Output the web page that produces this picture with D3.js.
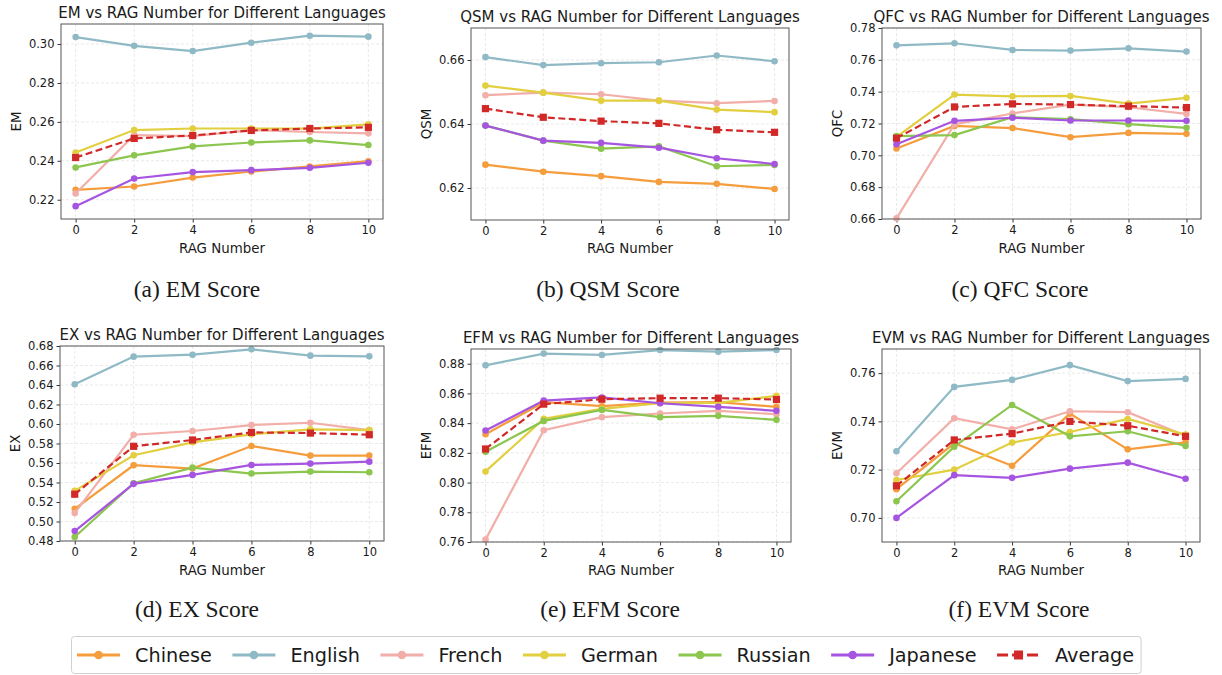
<!DOCTYPE html>
<html>
<head>
<meta charset="utf-8">
<script src="https://cdn.jsdelivr.net/npm/d3@7"></script>
<style>
  body { margin: 0; background: #fff; }
  svg text { font-family: "DejaVu Sans", sans-serif; fill: #1a1a1a; }
  .caption { font-family: "Liberation Serif", "Times New Roman", serif !important; }
</style>
</head>
<body>
<div id="vis"></div>
<script>
// data
const ragNumbers = [0, 2, 4, 6, 8, 10];
const languages = ['Chinese', 'English', 'French', 'German', 'Russian', 'Japanese'];

const emScores = {
  Chinese:  [0.2251, 0.2268, 0.2314, 0.2345, 0.2371, 0.2398],
  English:  [0.3036, 0.2991, 0.2964, 0.3007, 0.3043, 0.3038],
  French:   [0.2232, 0.2532, 0.2527, 0.2558, 0.2548, 0.2541],
  German:   [0.2443, 0.2558, 0.2566, 0.2566, 0.2565, 0.2587],
  Russian:  [0.2366, 0.2428, 0.2474, 0.2494, 0.2505, 0.2481],
  Japanese: [0.2167, 0.2309, 0.2342, 0.2352, 0.2364, 0.2390],
  Average:  [0.2417, 0.2515, 0.2530, 0.2556, 0.2566, 0.2572]
};
const qsmScores = {
  Chinese:  [0.6273, 0.6251, 0.6237, 0.6219, 0.6213, 0.6197],
  English:  [0.6609, 0.6584, 0.6590, 0.6593, 0.6614, 0.6596],
  French:   [0.6490, 0.6498, 0.6493, 0.6473, 0.6465, 0.6472],
  German:   [0.6520, 0.6498, 0.6473, 0.6473, 0.6445, 0.6437],
  Russian:  [0.6395, 0.6348, 0.6323, 0.6330, 0.6268, 0.6272],
  Japanese: [0.6395, 0.6348, 0.6341, 0.6326, 0.6293, 0.6275],
  Average:  [0.6448, 0.6421, 0.6409, 0.6402, 0.6382, 0.6374]
};
const qfcScores = {
  Chinese:  [0.7043, 0.7185, 0.7171, 0.7114, 0.7141, 0.7135],
  English:  [0.7691, 0.7704, 0.7662, 0.7658, 0.7672, 0.7652],
  French:   [0.6604, 0.7195, 0.7263, 0.7318, 0.7302, 0.7260],
  German:   [0.7116, 0.7382, 0.7371, 0.7373, 0.7325, 0.7361],
  Russian:  [0.7121, 0.7127, 0.7240, 0.7227, 0.7196, 0.7173],
  Japanese: [0.7070, 0.7217, 0.7236, 0.7219, 0.7219, 0.7217],
  Average:  [0.7108, 0.7304, 0.7323, 0.7319, 0.7309, 0.7300]
};
const exScores = {
  Chinese:  [0.5130, 0.5577, 0.5543, 0.5774, 0.5676, 0.5676],
  English:  [0.6408, 0.6691, 0.6711, 0.6766, 0.6701, 0.6694],
  French:   [0.5086, 0.5890, 0.5928, 0.5989, 0.6013, 0.5938],
  German:   [0.5314, 0.5679, 0.5812, 0.5894, 0.5945, 0.5938],
  Russian:  [0.4841, 0.5393, 0.5553, 0.5492, 0.5512, 0.5505],
  Japanese: [0.4902, 0.5386, 0.5478, 0.5580, 0.5594, 0.5614],
  Average:  [0.5280, 0.5771, 0.5836, 0.5914, 0.5907, 0.5890]
};
const efmScores = {
  Chinese:  [0.8325, 0.8541, 0.8514, 0.8539, 0.8541, 0.8510],
  English:  [0.8789, 0.8868, 0.8859, 0.8892, 0.8881, 0.8892],
  French:   [0.7616, 0.8352, 0.8440, 0.8465, 0.8483, 0.8460],
  German:   [0.8075, 0.8429, 0.8496, 0.8534, 0.8537, 0.8584],
  Russian:  [0.8208, 0.8415, 0.8489, 0.8440, 0.8449, 0.8422],
  Japanese: [0.8350, 0.8552, 0.8573, 0.8534, 0.8510, 0.8483],
  Average:  [0.8226, 0.8528, 0.8561, 0.8568, 0.8568, 0.8559]
};
const evmScores = {
  Chinese:  [0.7119, 0.7309, 0.7216, 0.7432, 0.7284, 0.7313],
  English:  [0.7276, 0.7543, 0.7572, 0.7633, 0.7567, 0.7576],
  French:   [0.7185, 0.7413, 0.7367, 0.7442, 0.7438, 0.7340],
  German:   [0.7157, 0.7200, 0.7312, 0.7356, 0.7410, 0.7345],
  Russian:  [0.7069, 0.7295, 0.7468, 0.7338, 0.7359, 0.7298],
  Japanese: [0.7000, 0.7177, 0.7166, 0.7204, 0.7229, 0.7162],
  Average:  [0.7133, 0.7323, 0.7349, 0.7400, 0.7382, 0.7338]
};

const yTicksEM  = [0.22, 0.24, 0.26, 0.28, 0.30];
const yTicksQSM = [0.62, 0.64, 0.66];
const yTicksQFC = [0.66, 0.68, 0.70, 0.72, 0.74, 0.76, 0.78];
const yTicksEX  = [0.48, 0.50, 0.52, 0.54, 0.56, 0.58, 0.60, 0.62, 0.64, 0.66, 0.68];
const yTicksEFM = [0.76, 0.78, 0.80, 0.82, 0.84, 0.86, 0.88];
const yTicksEVM = [0.70, 0.72, 0.74, 0.76];

// styles
const colors = {
  Chinese: '#f59d3d', English: '#8fbac5', French: '#f2aea8',
  German: '#e2cf40', Russian: '#8cc64f', Japanese: '#a655e0', Average: '#d12828'
};

// panels: metric, data, y range, placement
const panels = [
  { metric: 'EM',  data: emScores,  ticks: yTicksEM,  domain: [0.2101, 0.3103], left: 61,  right: 383,  top: 24,  bottom: 219, caption: '(a) EM Score',  capX: 197 },
  { metric: 'QSM', data: qsmScores, ticks: yTicksQSM, domain: [0.61, 0.67],     left: 471, right: 789,  top: 28,  bottom: 220, caption: '(b) QSM Score', capX: 608 },
  { metric: 'QFC', data: qfcScores, ticks: yTicksQFC, domain: [0.66, 0.78],     left: 882, right: 1201, top: 28,  bottom: 219, caption: '(c) QFC Score', capX: 1020 },
  { metric: 'EX',  data: exScores,  ticks: yTicksEX,  domain: [0.48, 0.68],     left: 60,  right: 384,  top: 346, bottom: 541, caption: '(d) EX Score',  capX: 197 },
  { metric: 'EFM', data: efmScores, ticks: yTicksEFM, domain: [0.76, 0.8899],   left: 471, right: 791,  top: 349, bottom: 542, caption: '(e) EFM Score', capX: 610 },
  { metric: 'EVM', data: evmScores, ticks: yTicksEVM, domain: [0.69, 0.77],     left: 882, right: 1200, top: 349, bottom: 542, caption: '(f) EVM Score', capX: 1019 }
];

const W = 1222, H = 675;
const svg = d3.select('#vis').append('svg')
  .attr('width', W).attr('height', H);

panels.forEach((p, i) => {
  const row = i < 3 ? 0 : 1;
  const x = d3.scaleLinear().domain([-0.5, 10.5]).range([p.left, p.right]);
  const y = d3.scaleLinear().domain(p.domain).range([p.bottom, p.top]);
  const g = svg.append('g');

  // grid
  g.append('g').selectAll('line.gx').data(ragNumbers).join('line')
    .attr('x1', d => x(d)).attr('x2', d => x(d))
    .attr('y1', p.top).attr('y2', p.bottom)
    .attr('stroke', '#b0b0b0').attr('stroke-opacity', 0.35)
    .attr('stroke-width', 0.8).attr('stroke-dasharray', '3,2');
  g.append('g').selectAll('line.gy').data(p.ticks).join('line')
    .attr('x1', p.left).attr('x2', p.right)
    .attr('y1', d => y(d)).attr('y2', d => y(d))
    .attr('stroke', '#b0b0b0').attr('stroke-opacity', 0.35)
    .attr('stroke-width', 0.8).attr('stroke-dasharray', '3,2');

  // axes
  const xAxis = d3.axisBottom(x).tickValues(ragNumbers).tickSize(3.5).tickPadding(3);
  const yAxis = d3.axisLeft(y).tickValues(p.ticks).tickFormat(d3.format('.2f')).tickSize(3.5).tickPadding(3);
  const gx = g.append('g').attr('transform', `translate(0,${p.bottom})`).call(xAxis);
  const gy = g.append('g').attr('transform', `translate(${p.left},0)`).call(yAxis);
  [gx, gy].forEach(a => {
    a.select('.domain').remove();
    a.selectAll('.tick line').attr('stroke', '#333');
    a.selectAll('.tick text').style('font-size', '11.5px').attr('fill', '#1a1a1a');
  });

  // series
  const clip = `clip${i}`;
  svg.append('clipPath').attr('id', clip).append('rect')
    .attr('x', p.left).attr('y', p.top - 4)
    .attr('width', p.right - p.left).attr('height', p.bottom - p.top + 8);
  const series = g.append('g').attr('clip-path', `url(#${clip})`);
  const line = d3.line().x((d, j) => x(ragNumbers[j])).y(d => y(d));

  languages.forEach(lang => {
    series.append('path').datum(p.data[lang])
      .attr('d', line).attr('fill', 'none')
      .attr('stroke', colors[lang]).attr('stroke-width', 2.2);
    series.selectAll(null).data(p.data[lang]).join('circle')
      .attr('cx', (d, j) => x(ragNumbers[j])).attr('cy', d => y(d))
      .attr('r', 3.3).attr('fill', colors[lang]);
  });
  series.append('path').datum(p.data.Average)
    .attr('d', line).attr('fill', 'none')
    .attr('stroke', colors.Average).attr('stroke-width', 2.2)
    .attr('stroke-dasharray', '7,3.5');
  series.selectAll(null).data(p.data.Average).join('rect')
    .attr('x', (d, j) => x(ragNumbers[j]) - 3.6).attr('y', d => y(d) - 3.6)
    .attr('width', 7.2).attr('height', 7.2).attr('fill', colors.Average);

  // frame
  g.append('rect')
    .attr('x', p.left).attr('y', p.top)
    .attr('width', p.right - p.left).attr('height', p.bottom - p.top)
    .attr('fill', 'none').attr('stroke', '#555').attr('stroke-width', 1);

  // texts
  g.append('text')
    .attr('x', (p.left + p.right) / 2).attr('y', p.top - 6.5)
    .attr('text-anchor', 'middle').style('font-size', '15px')
    .text(`${p.metric} vs RAG Number for Different Languages`);
  g.append('text')
    .attr('x', (p.left + p.right) / 2).attr('y', row === 0 ? 252.5 : 575)
    .attr('text-anchor', 'middle').style('font-size', '13.4px')
    .text('RAG Number');
  g.append('text')
    .attr('transform', `translate(${p.left - 40.5},${(p.top + p.bottom) / 2}) rotate(-90)`)
    .attr('text-anchor', 'middle').style('font-size', '13.4px')
    .text(p.metric);
  g.append('text').attr('class', 'caption')
    .attr('x', p.capX).attr('y', row === 0 ? 297 : 617)
    .attr('text-anchor', 'middle').style('font-size', '23.5px')
    .text(p.caption);
});

// legend
const legendItems = languages.concat(['Average']);
const legend = svg.append('g');
const legendBox = legend.append('rect')
  .attr('x', 71.5).attr('y', 636.5).attr('height', 37).attr('rx', 3)
  .attr('fill', '#fff').attr('stroke', '#d0d0d0').attr('stroke-width', 1);
let lx = 77;
const ly = 655;
legendItems.forEach(name => {
  const isAvg = name === 'Average';
  legend.append('line')
    .attr('x1', lx).attr('x2', lx + 43).attr('y1', ly).attr('y2', ly)
    .attr('stroke', colors[name]).attr('stroke-width', 3)
    .attr('stroke-dasharray', isAvg ? '11,4' : null);
  if (isAvg) {
    legend.append('rect').attr('x', lx + 17).attr('y', ly - 4.5)
      .attr('width', 9).attr('height', 9).attr('fill', colors[name]);
  } else {
    legend.append('circle').attr('cx', lx + 21.5).attr('cy', ly).attr('r', 4.3)
      .attr('fill', colors[name]);
  }
  const t = legend.append('text')
    .attr('x', lx + 58).attr('y', ly + 7)
    .style('font-size', '19.25px').text(name);
  lx = lx + 58 + t.node().getComputedTextLength() + 20.5;
});
legendBox.attr('width', lx - 20.5 + 7 - 71.5);
</script>
</body>
</html>
